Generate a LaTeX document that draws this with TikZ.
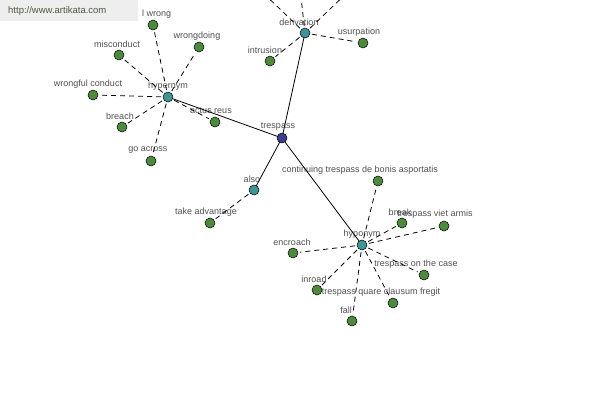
\documentclass[tikz,border=0pt]{standalone}
\usepackage{fontspec}
\setmainfont{Liberation Sans}
\definecolor{leafgreen}{HTML}{4E8A3E}
\definecolor{hubteal}{HTML}{3F9494}
\definecolor{rootblue}{HTML}{3C3F8C}
\definecolor{labelgray}{HTML}{505050}
\definecolor{wmbg}{HTML}{EEEEEE}
\definecolor{wmtext}{HTML}{4A5A40}
\tikzset{
  lbl/.style={font=\fontsize{9}{10}\selectfont, text=labelgray, inner sep=0pt},
  dot/.style={circle, draw=black, line width=0.5pt, minimum size=10pt, inner sep=0pt},
  leaf/.style={dot, fill=leafgreen},
  hub/.style={dot, fill=hubteal},
  root/.style={dot, fill=rootblue},
  rel/.style={line width=0.8pt, black},
  sub/.style={line width=0.8pt, black, dash pattern=on 5pt off 4pt, shorten <=7pt, shorten >=7pt}
}
\begin{document}
\begin{tikzpicture}[x=1pt, y=-1pt]
\useasboundingbox (0,0) rectangle (600,400);
\clip (0,0) rectangle (600,400);
% positions
\coordinate (tr) at (282,138);
\coordinate (hyper) at (168,97);
\coordinate (deriv) at (305,33);
\coordinate (also) at (254,190);
\coordinate (hypo) at (362,245);
\coordinate (lw) at (153,25);
\coordinate (misc) at (119,55);
\coordinate (wdo) at (199,47);
\coordinate (wfc) at (93,95);
\coordinate (brc) at (122,127);
\coordinate (goa) at (151,161);
\coordinate (act) at (215,122);
\coordinate (intr) at (270,61);
\coordinate (usur) at (363,43);
\coordinate (up1) at (258,-12);
\coordinate (up2) at (300,-12);
\coordinate (up3) at (352,-12);
\coordinate (take) at (210,223);
\coordinate (cont) at (378,181);
\coordinate (brk) at (402,223);
\coordinate (tva) at (444,226);
\coordinate (enc) at (293,253);
\coordinate (inr) at (317,290);
\coordinate (tqc) at (393,303);
\coordinate (toc) at (424,275);
\coordinate (fall) at (352,321);
% labels
\node[lbl] (Ltr) at (278,127) {trespass};
\node[lbl] (Lhyper) at (168,86) {hypernym};
\node[lbl] (Lderiv) at (299,22) {derivation};
\node[lbl] (Lalso) at (252,179) {also};
\node[lbl] (Lhypo) at (362,234) {hyponym};
\node[lbl, anchor=west] (Llw) at (142,14) {l wrong};
\node[lbl] (Lmisc) at (117,44) {misconduct};
\node[lbl] (Lwdo) at (197,36) {wrongdoing};
\node[lbl] (Lwfc) at (88,84) {wrongful conduct};
\node[lbl] (Lbrc) at (120,116) {breach};
\node[lbl] (Lgoa) at (148,150) {go across};
\node[lbl] (Lact) at (211,111) {actus reus};
\node[lbl] (Lintr) at (265,50) {intrusion};
\node[lbl] (Lusur) at (359,32) {usurpation};
\node[lbl] (Ltake) at (206,212) {take advantage};
\node[lbl] (Lcont) at (360,170) {continuing trespass de bonis asportatis};
\node[lbl] (Lbrk) at (400,212) {break};
\node[lbl] (Ltva) at (435,214) {trespass viet armis};
\node[lbl] (Lenc) at (292,242) {encroach};
\node[lbl] (Linr) at (314,279) {inroad};
\node[lbl] (Ltqc) at (381,292) {trespass quare clausum fregit};
\node[lbl] (Ltoc) at (416,264) {trespass on the case};
\node[lbl] (Lfall) at (346,310) {fall};
% connectors
\draw[rel] (tr) -- (hyper);
\draw[rel] (tr) -- (deriv);
\draw[rel] (tr) -- (also);
\draw[rel] (tr) -- (hypo);
\foreach \l in {lw,misc,wdo,wfc,brc,goa,act} \draw[sub] (hyper) -- (\l);
\foreach \l in {intr,usur} \draw[sub] (deriv) -- (\l);
\foreach \l in {up1,up2,up3} \draw[sub, shorten >=0pt] (deriv) -- (\l);
\draw[sub] (also) -- (take);
\foreach \l in {cont,brk,tva,enc,inr,tqc,toc,fall} \draw[sub] (hypo) -- (\l);
% dots
\node[root] (Ntr) at (tr) {};
\foreach \h in {hyper,deriv,also,hypo} \node[hub] (N\h) at (\h) {};
\foreach \l in {lw,misc,wdo,wfc,brc,goa,act,intr,usur,take,cont,brk,tva,enc,inr,tqc,toc,fall} \node[leaf] (N\l) at (\l) {};
% watermark
\fill[wmbg] (0,0) rectangle (138,21);
\node[font=\fontsize{9.5}{11}\selectfont, text=wmtext, anchor=west, inner sep=0pt] (wm) at (8,11.5) {http://www.artikata.com};
\end{tikzpicture}
\end{document}
